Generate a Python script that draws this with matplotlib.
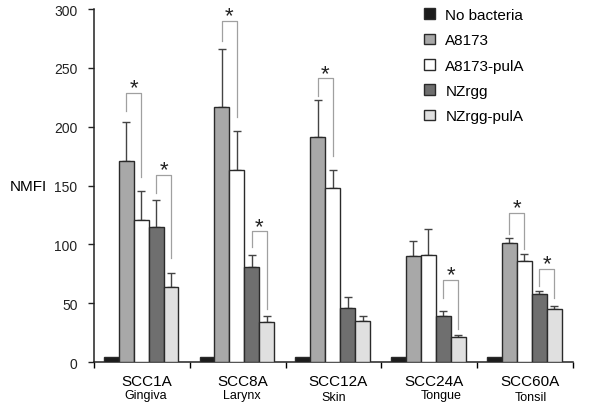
import matplotlib
matplotlib.use("Agg")
from matplotlib import pyplot as plt
from matplotlib.patches import Patch

plt.rcParams["font.family"] = ["Liberation Sans", "DejaVu Sans"]

# data
cell_lines = ["SCC1A", "SCC8A", "SCC12A", "SCC24A", "SCC60A"]
tissues = ["Gingiva", "Larynx", "Skin", "Tongue", "Tonsil"]
strains = ["No bacteria", "A8173", "A8173-pulA", "NZrgg", "NZrgg-pulA"]

no_bacteria = [4, 4, 4, 4, 4]
a8173 = [171, 217, 191, 90, 101]
a8173_pula = [121, 163, 148, 91, 86]
nzrgg = [115, 81, 46, 39, 58]
nzrgg_pula = [64, 34, 35, 21, 45]

no_bacteria_err = [0, 0, 0, 0, 0]
a8173_err = [33, 49, 32, 13, 4]
a8173_pula_err = [24, 33, 15, 22, 6]
nzrgg_err = [23, 10, 9, 4, 2]
nzrgg_pula_err = [12, 5, 4, 2, 3]

# significance brackets: group, left bar, right bar, top, left leg end, right leg end
brackets = [
    (0, 1, 2, 229, 213, 157),
    (0, 3, 4, 159, 144, 88),
    (1, 1, 2, 290, 273, 208),
    (1, 3, 4, 111, 98, 45),
    (2, 1, 2, 241, 226, 175),
    (3, 3, 4, 70, 54, 28),
    (4, 1, 2, 127, 109, 96),
    (4, 3, 4, 79, 65, 54),
]

means = [no_bacteria, a8173, a8173_pula, nzrgg, nzrgg_pula]
errs = [no_bacteria_err, a8173_err, a8173_pula_err, nzrgg_err, nzrgg_pula_err]
colours = ["#1c1c1c", "#a8a8a8", "#ffffff", "#6f6f6f", "#e0e0e0"]
edge = "#2a2a2a"

width = 0.156
offset = 0.10

fig = plt.figure(figsize=(6, 4.1), dpi=100)
ax = fig.add_axes([0.157, 0.1146, 0.798, 0.861])

for s in range(len(strains)):
    xs = [g + offset + s * width + width / 2 for g in range(len(cell_lines))]
    ax.bar(xs, means[s], width=width, color=colours[s], edgecolor=edge,
           linewidth=1.0, zorder=3)
    if s > 0:
        ax.errorbar(xs, means[s], yerr=[[0] * len(xs), errs[s]], fmt="none",
                    ecolor="#444444", elinewidth=1.0, capsize=3, capthick=1.0,
                    zorder=2)

for g, b1, b2, top, l_end, r_end in brackets:
    x1 = g + offset + b1 * width + width / 2
    x2 = g + offset + b2 * width + width / 2
    ax.plot([x1, x1, x2, x2], [l_end, top, top, r_end], color="#a0a0a0",
            linewidth=0.9, zorder=4)
    ax.text((x1 + x2) / 2, top - 0.5, "*", ha="center", va="baseline",
            fontsize=16, color="#222222")

ax.set_xlim(0, 5)
ax.set_ylim(0, 300)
ax.set_xticks(range(6))
ax.set_xticklabels([])
ax.set_yticks(range(0, 301, 50))
ax.tick_params(axis="y", labelsize=10, length=4, width=1, pad=8,
               colors="#222222")
ax.tick_params(axis="x", length=4, width=1, direction="out")
for side in ["top", "right"]:
    ax.spines[side].set_visible(False)
for side in ["left", "bottom"]:
    ax.spines[side].set_linewidth(1.1)
    ax.spines[side].set_color("#222222")

ax.set_ylabel("NMFI", rotation=0, fontsize=11, ha="right", va="center")
ax.yaxis.set_label_coords(-0.098, 0.5)

tissue_x = [0.54, 1.54, 2.5, 3.62, 4.56]
tissue_y = [-0.094, -0.094, -0.1, -0.094, -0.1]
trans = ax.get_xaxis_transform()
for g in range(len(cell_lines)):
    ax.text(g + 0.55, -0.053, cell_lines[g], transform=trans, ha="center",
            va="center", fontsize=11)
    ax.text(tissue_x[g], tissue_y[g], tissues[g], transform=trans,
            ha="center", va="center", fontsize=9)

handles = [Patch(facecolor=colours[s], edgecolor=edge, linewidth=1.0)
           for s in range(len(strains))]
fig.legend(handles, strains, loc="upper left",
           bbox_to_anchor=(424 / 600, 1 - 9 / 410), frameon=False,
           fontsize=11, handlelength=0.7, handleheight=0.7,
           handletextpad=0.7, labelspacing=0.74, borderpad=0,
           borderaxespad=0)

fig.savefig("out.png", dpi=100)
